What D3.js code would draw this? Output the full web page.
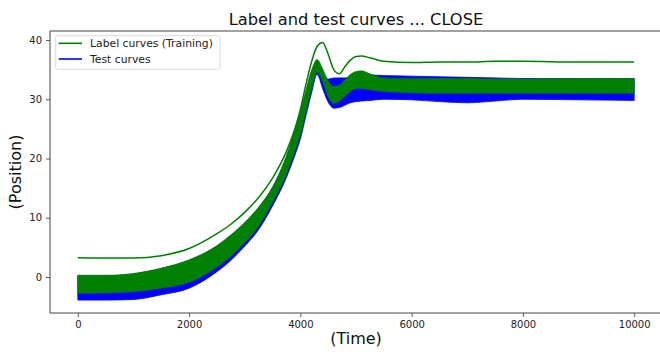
<!DOCTYPE html>
<html>
<head>
<meta charset="utf-8">
<script src="https://cdn.jsdelivr.net/npm/d3@7"></script>
<style>
  body { margin: 0; background: #fff; }
  svg { display: block; font-family: "DejaVu Sans", sans-serif; }
</style>
</head>
<body>
<svg id="chart" width="660" height="352"></svg>
<script>
// ---- data ----
const times        = [0, 500, 1000, 1500, 2000, 2500, 2750, 3000, 3250, 3500, 3750, 3900, 4000, 4100, 4200, 4300, 4400, 4500, 4600, 4700, 4800, 4900, 5000, 5100, 5250, 5500, 6000, 6500, 7000, 7500, 8000, 9000, 10000];
// single outlying label curve
const labelOutlier = [3.25, 3.2, 3.2, 3.6, 4.8, 7.3, 8.9, 10.9, 13.4, 16.7, 21.2, 25.0, 28.3, 32.5, 36.3, 38.9, 39.6, 37.6, 35.0, 34.3, 35.5, 36.6, 37.2, 37.3, 37.0, 36.4, 36.2, 36.3, 36.3, 36.4, 36.4, 36.3, 36.3];
// envelope of the bundle of label (training) curves
const labelTop     = [0.3, 0.3, 0.6, 1.5, 2.9, 5.3, 7.1, 9.2, 11.8, 15.2, 20.5, 24.8, 27.9, 31.5, 34.9, 36.7, 35.2, 33.0, 32.2, 32.4, 33.3, 34.2, 34.7, 34.8, 34.3, 33.6, 33.5, 33.5, 33.5, 33.4, 33.4, 33.5, 33.5];
const labelBottom  = [-2.75, -2.7, -2.5, -1.9, -0.9, 1.7, 3.5, 5.8, 8.6, 12.6, 17.4, 21.2, 24.0, 27.9, 31.6, 34.6, 33.0, 30.4, 29.3, 29.6, 30.5, 31.3, 31.8, 31.8, 31.6, 31.3, 31.1, 31.0, 31.0, 31.0, 31.0, 31.0, 31.0];
// envelope of the bundle of test curves
const testTop      = [0.2, 0.2, 0.5, 1.4, 2.8, 5.2, 7.0, 9.1, 11.7, 15.1, 20.3, 24.6, 27.7, 31.2, 34.6, 35.8, 34.6, 33.4, 33.6, 33.6, 33.6, 33.7, 34.0, 34.0, 34.1, 34.0, 33.9, 33.8, 33.7, 33.6, 33.5, 33.5, 33.5];
const testBottom   = [-3.9, -3.9, -3.8, -3.0, -1.9, 0.9, 2.8, 5.2, 8.0, 12.0, 16.8, 20.5, 23.3, 27.2, 31.0, 34.2, 31.8, 29.5, 28.5, 28.6, 29.0, 29.4, 29.6, 29.7, 29.8, 30.0, 29.9, 29.6, 29.4, 29.7, 30.0, 29.9, 29.8];
const xTicks = [0, 2000, 4000, 6000, 8000, 10000];
const yTicks = [0, 10, 20, 30, 40];
const titleText = "Label and test curves ... CLOSE";
const xLabel = "(Time)";
const yLabel = "(Position)";
const legendLabels = ["Label curves (Training)", "Test curves"];
const legendColors = ["green", "blue"];

// ---- drawing ----
const svg = d3.select("#chart");
const pL = 50, pR = 662, pT = 31, pB = 313;
const x = d3.scaleLinear().domain([-500, 10500]).range([pL, pR]);
const y = d3.scaleLinear().domain([-6.08, 41.52]).range([pB, pT]);

const idx = d3.range(times.length);
const area = (lo, hi) => d3.area()
  .x(i => x(times[i])).y0(i => y(lo[i])).y1(i => y(hi[i]))
  .curve(d3.curveMonotoneX);

svg.append("path").attr("d", area(testBottom, testTop)(idx))
  .attr("fill", "blue").attr("stroke", "blue").attr("stroke-width", 0.8);
svg.append("path").attr("d", area(labelBottom, labelTop)(idx))
  .attr("fill", "green").attr("stroke", "green").attr("stroke-width", 0.6);

const line = d3.line().x(i => x(times[i])).y(i => y(labelOutlier[i])).curve(d3.curveMonotoneX);
svg.append("path").attr("d", line(idx))
  .attr("fill", "none").attr("stroke", "green").attr("stroke-width", 1.5);

// axes
const gx = svg.append("g").attr("transform", `translate(0,${pB})`)
  .call(d3.axisBottom(x).tickValues(xTicks).tickFormat(d3.format("d")).tickSize(4).tickPadding(4));
const gy = svg.append("g").attr("transform", `translate(${pL},0)`)
  .call(d3.axisLeft(y).tickValues(yTicks).tickFormat(d3.format("d")).tickSize(4).tickPadding(4));
[gx, gy].forEach(g => {
  g.select(".domain").remove();
  g.selectAll(".tick line").attr("stroke", "#333").attr("stroke-width", 0.8);
  g.selectAll(".tick text").attr("fill", "#222").style("font-size", "10px").style("font-family", "DejaVu Sans");
});

// spines
svg.append("line").attr("x1", pL).attr("x2", pL).attr("y1", pT).attr("y2", pB).attr("stroke", "#444").attr("stroke-width", 1);
svg.append("line").attr("x1", pL).attr("x2", pR).attr("y1", pB).attr("y2", pB).attr("stroke", "#444").attr("stroke-width", 1);
svg.append("line").attr("x1", pL).attr("x2", pR).attr("y1", pT).attr("y2", pT).attr("stroke", "#444").attr("stroke-width", 1);

// title and labels
svg.append("text").attr("x", (pL + pR) / 2).attr("y", 25).attr("text-anchor", "middle")
  .style("font-size", "16.3px").attr("fill", "#111").text(titleText);
svg.append("text").attr("x", (pL + pR) / 2).attr("y", 344).attr("text-anchor", "middle")
  .style("font-size", "16px").attr("fill", "#111").text(xLabel);
svg.append("text").attr("transform", `translate(21,${(pT + pB) / 2}) rotate(-90)`).attr("text-anchor", "middle")
  .style("font-size", "16px").attr("fill", "#111").text(yLabel);

// legend
const lg = svg.append("g");
lg.append("rect").attr("x", 55.7).attr("y", 35.7).attr("width", 164.3).attr("height", 33.6).attr("rx", 2)
  .attr("fill", "#fff").attr("fill-opacity", 0.8).attr("stroke", "#d0d0d0").attr("stroke-width", 0.8);
legendLabels.forEach((lab, i) => {
  const ly = 43.3 + i * 15.7;
  lg.append("line").attr("x1", 58.7).attr("x2", 82).attr("y1", ly).attr("y2", ly)
    .attr("stroke", legendColors[i]).attr("stroke-width", 1.6);
  lg.append("text").attr("x", 90).attr("y", ly + 3.9).style("font-size", "10.8px").attr("fill", "#222").text(lab);
});
</script>
</body>
</html>
